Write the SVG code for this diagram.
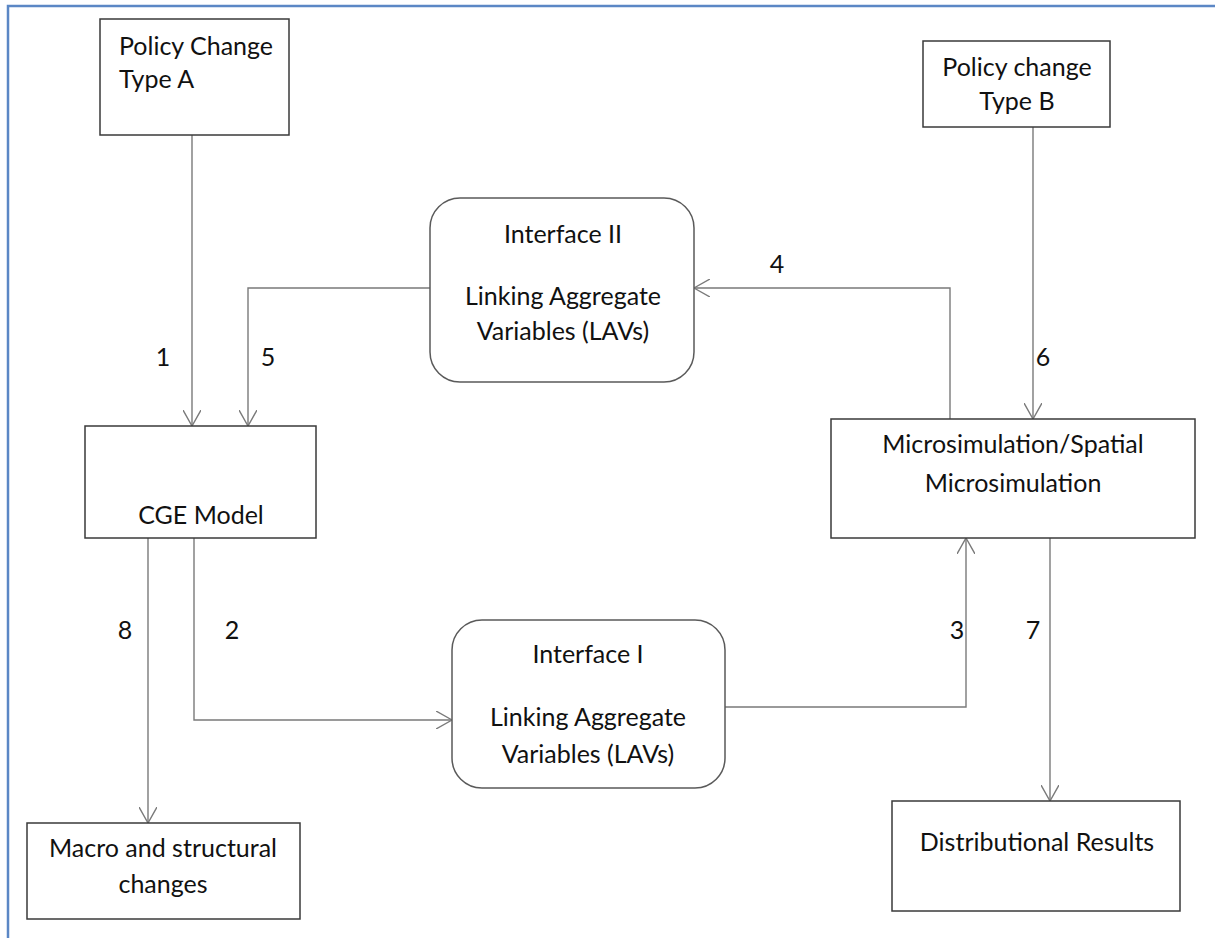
<svg xmlns="http://www.w3.org/2000/svg" width="1215" height="938" viewBox="0 0 1215 938">
<style>
.box{fill:#fff;stroke:#3a3a3a;stroke-width:1.5}
.rbox{fill:#fff;stroke:#5a5a5a;stroke-width:1.5}
.t{font-family:Lato,"Liberation Sans",sans-serif;font-size:25px;fill:#111}
.c{text-anchor:middle}
.conn{fill:none;stroke:#7a7a7a;stroke-width:1.4}
.lbl{font-family:Lato,"Liberation Sans",sans-serif;font-size:25px;fill:#111;text-anchor:middle}
</style>
<defs>
<marker id="ah" viewBox="0 0 16 18" refX="16" refY="9" markerWidth="16" markerHeight="18" markerUnits="userSpaceOnUse" orient="auto">
<path d="M0,0 L16,9 L0,18" fill="none" stroke="#7a7a7a" stroke-width="1.4"/>
</marker>
</defs>
<rect width="1215" height="938" fill="#fff"/>
<path d="M8,938 V6 H1215" fill="none" stroke="#5b87c5" stroke-width="2.5"/>
<g id="connectors">
<path class="conn" d="M192,135 V426" marker-end="url(#ah)"/>
<path class="conn" d="M430,288 H248 V426" marker-end="url(#ah)"/>
<path class="conn" d="M950,419 V288 H694" marker-end="url(#ah)"/>
<path class="conn" d="M1033,127 V419" marker-end="url(#ah)"/>
<path class="conn" d="M148,538 V823" marker-end="url(#ah)"/>
<path class="conn" d="M194,538 V720 H452" marker-end="url(#ah)"/>
<path class="conn" d="M725,707 H966 V538" marker-end="url(#ah)"/>
<path class="conn" d="M1050,538 V801" marker-end="url(#ah)"/>
<text class="lbl" x="163" y="366">1</text>
<text class="lbl" x="268" y="366">5</text>
<text class="lbl" x="777" y="273">4</text>
<text class="lbl" x="1043" y="366">6</text>
<text class="lbl" x="125" y="639">8</text>
<text class="lbl" x="232" y="639">2</text>
<text class="lbl" x="957" y="639">3</text>
<text class="lbl" x="1033" y="639">7</text>
</g>
<g id="policyA">
<rect class="box" x="100" y="19" width="189" height="116"/>
<text class="t" x="119" y="55">Policy Change</text>
<text class="t" x="119" y="88">Type A</text>
</g>
<g id="policyB">
<rect class="box" x="923" y="41" width="187" height="86"/>
<text class="t c" x="1017" y="76">Policy change</text>
<text class="t c" x="1017" y="110">Type B</text>
</g>
<g id="interface2">
<rect class="rbox" x="430" y="198" width="264" height="184" rx="30" ry="30"/>
<text class="t c" x="563" y="243">Interface II</text>
<text class="t c" x="563" y="305">Linking Aggregate</text>
<text class="t c" x="563" y="340">Variables (LAVs)</text>
</g>
<g id="cge">
<rect class="box" x="85" y="426" width="231" height="112"/>
<text class="t c" x="201" y="524">CGE Model</text>
</g>
<g id="micro">
<rect class="box" x="831" y="419" width="364" height="119"/>
<text class="t c" x="1013" y="453">Microsimulation/Spatial</text>
<text class="t c" x="1013" y="492">Microsimulation</text>
</g>
<g id="interface1">
<rect class="rbox" x="452" y="620" width="273" height="168" rx="30" ry="30"/>
<text class="t c" x="588" y="663">Interface I</text>
<text class="t c" x="588" y="726">Linking Aggregate</text>
<text class="t c" x="588" y="763">Variables (LAVs)</text>
</g>
<g id="macro">
<rect class="box" x="27" y="823" width="273" height="96"/>
<text class="t c" x="163" y="857">Macro and structural</text>
<text class="t c" x="163" y="893">changes</text>
</g>
<g id="distributional">
<rect class="box" x="892" y="801" width="288" height="110"/>
<text class="t c" x="1037" y="851">Distributional Results</text>
</g>
</svg>
